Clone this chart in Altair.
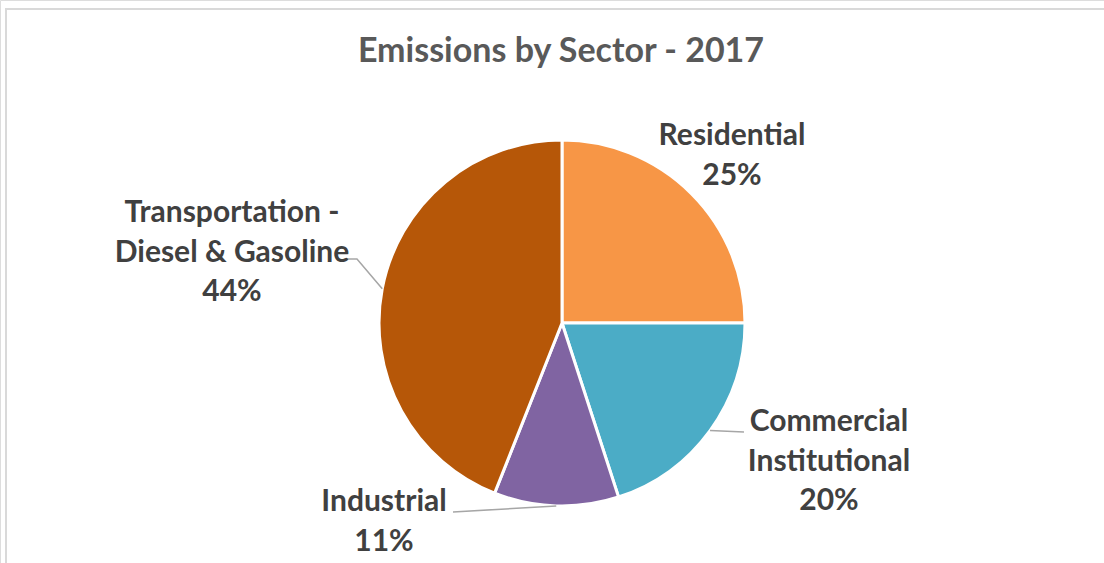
import math
import altair as alt
import pandas as pd

# ---- data ----
sectors = ["Residential", "Commercial Institutional", "Industrial",
           "Transportation - Diesel & Gasoline"]
label_text = ["Residential", "Commercial\nInstitutional", "Industrial",
              "Transportation -\nDiesel & Gasoline"]
shares = [25, 20, 11, 44]
colors = ["#F79646", "#4BACC6", "#8064A2", "#B65708"]
title_text = "Emissions by Sector - 2017"

# ---- layout (pixels) ----
W, H = 1104, 563
CX, CY, R = 562, 323, 183
# centre of the first line of each label
label_pos = [(732, 136), (829, 422), (384, 502), (232, 213)]
# leader line waypoints after the slice edge point (None = no leader)
leader_pts = [None, [(744, 432)], [(453, 512)], [(357, 259), (346, 259)]]
FONT = "Lato"

total = sum(shares)
pie_df = pd.DataFrame({"sector": sectors, "share": shares,
                       "order": list(range(len(sectors)))})

lab_rows, line_rows = [], []
cum = 0
for i, (s, v) in enumerate(zip(label_text, shares)):
    pct = round(100 * v / total)
    lab_rows.append({"label": f"{s}\n{pct}%", "px": label_pos[i][0],
                     "py": label_pos[i][1]})
    mid = (cum + v / 2) / total * 2 * math.pi
    cum += v
    if leader_pts[i]:
        pts = [(CX + R * math.sin(mid), CY - R * math.cos(mid))] + leader_pts[i]
        for k, (x, y) in enumerate(pts):
            line_rows.append({"g": i, "k": k, "px": x, "py": y})
lab_df = pd.DataFrame(lab_rows)
line_df = pd.DataFrame(line_rows)

border = alt.Chart(pd.DataFrame({"a": [0]})).mark_rect(
    fill="white", stroke="#D9D9D9", strokeWidth=2
).encode(x=alt.value(6), y=alt.value(9), x2=alt.value(W + 10), y2=alt.value(H + 10))

pie = alt.Chart(pie_df).mark_arc(
    outerRadius=R, stroke="white", strokeWidth=3
).encode(
    theta=alt.Theta("share:Q", stack=True),
    order=alt.Order("order:Q"),
    color=alt.Color("sector:N", scale=alt.Scale(domain=sectors, range=colors), legend=None),
    x=alt.value(CX), y=alt.value(CY),
)

leaders = alt.Chart(line_df).mark_line(color="#A6A6A6", strokeWidth=1.5).encode(
    x=alt.X("px:Q", scale=None, axis=None),
    y=alt.Y("py:Q", scale=None, axis=None),
    detail="g:N", order="k:Q",
)

labels = alt.Chart(lab_df).mark_text(
    font=FONT, fontSize=30, fontWeight="bold", color="#404040",
    lineBreak="\n", lineHeight=39.5, align="center", baseline="middle"
).encode(
    x=alt.X("px:Q", scale=None, axis=None),
    y=alt.Y("py:Q", scale=None, axis=None),
    text="label:N",
)

title = alt.Chart(pd.DataFrame({"t": [title_text]})).mark_text(
    font=FONT, fontSize=34, fontWeight="bold", color="#595959",
    align="center", baseline="middle"
).encode(x=alt.value(561), y=alt.value(52), text="t:N")

chart = alt.layer(border, pie, leaders, labels, title).properties(
    width=W, height=H, padding=0, autosize=alt.AutoSizeParams(type="none")
).configure_view(stroke=None).configure(background="white")

chart.save("out.html", embed_options={"renderer": "svg", "actions": False})
